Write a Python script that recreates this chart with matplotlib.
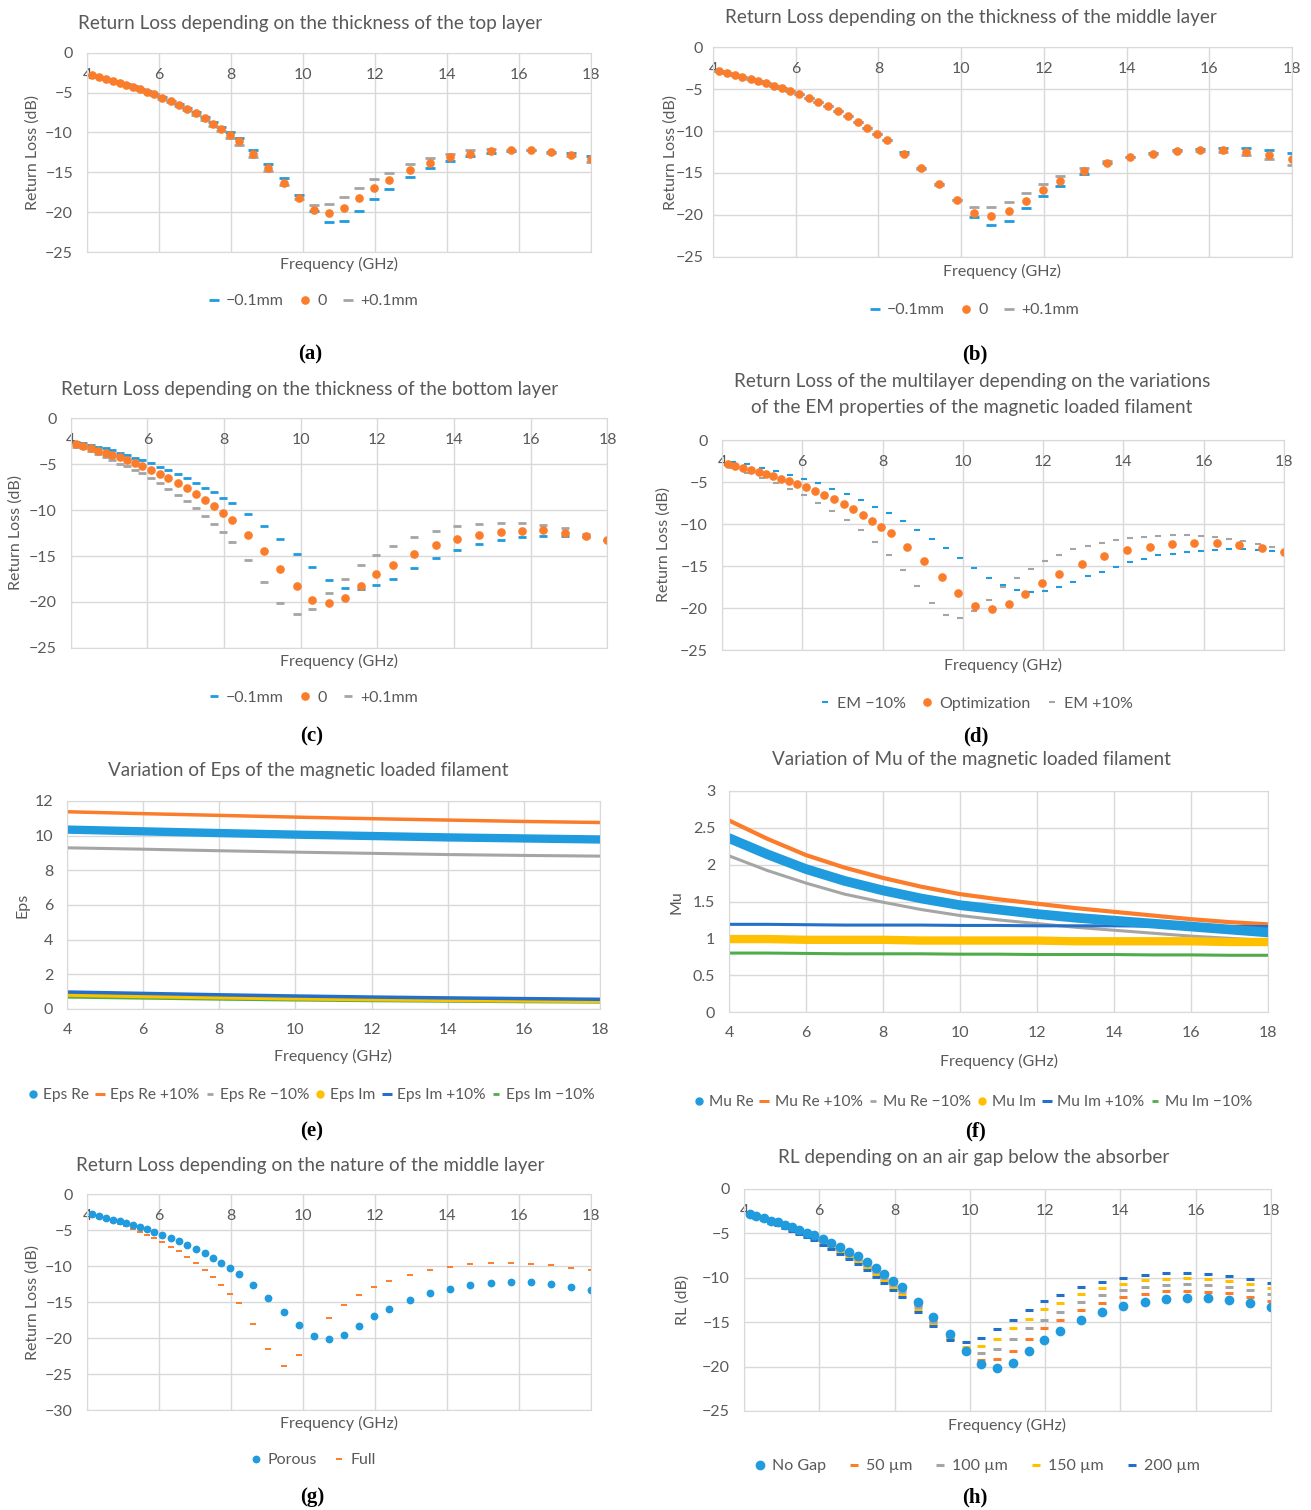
import matplotlib.pyplot as plt
from matplotlib.lines import Line2D

plt.rcParams['font.family'] = ['Lato', 'DejaVu Sans']

W, H = 1311, 1510
TXT = '#595959'
GRID = '#D9D9D9'
BLUE = '#1F9BDE'
ORANGE = '#FB7D2B'
GRAY = '#A5A5A5'
YELLOW = '#FFC000'
DBLUE = '#2470C8'
GREEN = '#4EAD4A'

# frequency samples (GHz) of the simulated return loss
freq = [4.15, 4.33, 4.52, 4.71, 4.91, 5.09, 5.28, 5.47, 5.67, 5.86,
        6.09, 6.32, 6.55, 6.79, 7.03, 7.27, 7.51, 7.73, 7.97, 8.21,
        8.62, 9.03, 9.47, 9.89, 10.30, 10.73, 11.15, 11.56, 11.97, 12.40,
        12.96, 13.52, 14.08, 14.65, 15.21, 15.77, 16.33, 16.88, 17.45, 18.0]

# optimised multilayer (reference curve, used in every RL panel)
rl_opt = [-2.8, -3.05, -3.3, -3.55, -3.77, -4.0, -4.27, -4.6, -4.9, -5.23,
          -5.65, -6.1, -6.57, -7.07, -7.6, -8.24, -8.9, -9.6, -10.33, -11.05,
          -12.68, -14.43, -16.36, -18.24, -19.75, -20.13, -19.54, -18.28, -16.99, -15.94,
          -14.77, -13.81, -13.14, -12.68, -12.38, -12.26, -12.22, -12.47, -12.85, -13.3]

# (a) top layer thickness
top_m = [-2.78, -3.03, -3.28, -3.52, -3.74, -3.97, -4.23, -4.55, -4.85, -5.17,
         -5.58, -6.02, -6.48, -6.97, -7.5, -8.1, -8.7, -9.35, -10.0, -10.7,
         -12.2, -13.9, -15.7, -17.9, -19.8, -21.2, -21.05, -19.9, -18.4, -17.1,
         -15.6, -14.5, -13.6, -12.97, -12.55, -12.3, -12.2, -12.4, -12.6, -12.93]
top_p = [-2.85, -3.1, -3.35, -3.6, -3.83, -4.05, -4.33, -4.67, -4.98, -5.32,
         -5.75, -6.22, -6.7, -7.22, -7.78, -8.45, -9.2, -9.85, -10.67, -11.55,
         -13.1, -14.85, -16.6, -18.4, -19.1, -19.0, -18.1, -17.0, -15.9, -15.06,
         -13.93, -13.2, -12.68, -12.26, -12.1, -12.15, -12.25, -12.55, -12.95, -13.7]

# (b) middle layer thickness
mid_m = [-2.8, -3.05, -3.3, -3.55, -3.77, -4.0, -4.27, -4.6, -4.9, -5.23,
         -5.65, -6.1, -6.57, -7.07, -7.6, -8.24, -8.9, -9.6, -10.33, -11.05,
         -12.45, -14.35, -16.3, -18.2, -20.2, -21.2, -20.7, -19.2, -17.7, -16.5,
         -15.1, -13.85, -13.05, -12.6, -12.3, -12.1, -12.0, -12.05, -12.25, -12.6]
mid_p = [-2.8, -3.05, -3.3, -3.55, -3.77, -4.0, -4.27, -4.6, -4.9, -5.23,
         -5.65, -6.1, -6.57, -7.07, -7.6, -8.24, -8.9, -9.6, -10.33, -11.05,
         -12.75, -14.5, -16.4, -18.25, -19.0, -19.1, -18.4, -17.4, -16.3, -15.4,
         -14.35, -13.6, -13.1, -12.7, -12.4, -12.35, -12.5, -12.85, -13.3, -14.0]

# (c) bottom layer thickness
bot_m = [-2.6, -2.74, -2.9, -3.1, -3.3, -3.5, -3.75, -4.0, -4.3, -4.58,
         -4.9, -5.3, -5.7, -6.1, -6.57, -7.04, -7.58, -8.09, -8.66, -9.28,
         -10.43, -11.77, -13.18, -14.73, -16.2, -17.58, -18.45, -18.63, -18.16, -17.47,
         -16.28, -15.23, -14.37, -13.72, -13.25, -12.96, -12.78, -12.8, -12.92, -13.25]
bot_p = [-3.1, -3.3, -3.57, -3.86, -4.22, -4.58, -4.95, -5.27, -5.67, -6.03,
         -6.5, -7.08, -7.69, -8.34, -9.03, -9.78, -10.61, -11.48, -12.42, -13.43,
         -15.45, -17.8, -20.1, -21.34, -20.72, -19.06, -17.47, -15.96, -14.84, -13.94,
         -12.92, -12.31, -11.77, -11.48, -11.37, -11.44, -11.59, -11.99, -12.56, -13.25]

# (d) EM properties +/-10% (own frequency grid)
freq_em = [4.28, 4.63, 4.99, 5.34, 5.69, 6.05, 6.40, 6.75, 7.11, 7.46,
           7.81, 8.17, 8.52, 8.87, 9.22, 9.58, 9.93, 10.28, 10.64, 10.99,
           11.34, 11.70, 12.05, 12.40, 12.75, 13.11, 13.46, 13.81, 14.17, 14.52,
           14.87, 15.23, 15.58, 15.93, 16.29, 16.64, 16.99, 17.34, 17.70, 18.0]
em_m = [-2.58, -2.9, -3.29, -3.69, -4.17, -4.68, -5.16, -5.83, -6.47, -7.14,
        -7.94, -8.73, -9.68, -10.67, -11.75, -12.9, -14.05, -15.2, -16.4, -17.3,
        -17.86, -18.06, -17.98, -17.46, -16.9, -16.19, -15.67, -15.08, -14.56, -14.13,
        -13.69, -13.57, -13.37, -13.17, -13.1, -13.0, -13.0, -13.13, -13.25, -13.37]
em_p = [-3.3, -3.93, -4.48, -5.08, -5.83, -6.59, -7.46, -8.45, -9.52, -10.75,
        -12.18, -13.73, -15.44, -17.42, -19.4, -20.87, -21.19, -20.4, -19.0, -17.54,
        -16.4, -15.3, -14.4, -13.65, -13.0, -12.58, -12.22, -11.87, -11.7, -11.55,
        -11.39, -11.35, -11.35, -11.43, -11.59, -11.75, -12.0, -12.42, -12.78, -13.17]

# (e) permittivity of the magnetic loaded filament
f_eps = [4, 6, 8, 10, 12, 14, 16, 18]
eps_re = [10.35, 10.25, 10.15, 10.06, 9.98, 9.9, 9.84, 9.78]
eps_re_p = [11.38, 11.27, 11.17, 11.07, 10.98, 10.9, 10.82, 10.76]
eps_re_m = [9.3, 9.22, 9.13, 9.05, 8.98, 8.91, 8.86, 8.82]
eps_im = [0.84, 0.76, 0.69, 0.63, 0.58, 0.54, 0.51, 0.48]
eps_im_p = [0.98, 0.9, 0.82, 0.75, 0.69, 0.64, 0.6, 0.56]
eps_im_m = [0.7, 0.64, 0.58, 0.53, 0.49, 0.46, 0.43, 0.41]

# (f) permeability of the magnetic loaded filament
f_mu = [4, 5, 6, 7, 8, 9, 10, 11, 12, 13, 14, 15, 16, 17, 18]
mu_re = [2.36, 2.14, 1.94, 1.78, 1.65, 1.54, 1.45, 1.39, 1.33, 1.28, 1.24, 1.2, 1.16, 1.12, 1.08]
mu_re_p = [2.6, 2.35, 2.13, 1.96, 1.82, 1.70, 1.6, 1.53, 1.47, 1.41, 1.36, 1.31, 1.26, 1.22, 1.19]
mu_re_m = [2.12, 1.92, 1.75, 1.60, 1.49, 1.39, 1.31, 1.25, 1.2, 1.15, 1.11, 1.07, 1.03, 1.0, 0.97]
mu_im = [0.99, 0.99, 0.98, 0.98, 0.98, 0.97, 0.97, 0.97, 0.97, 0.96, 0.96, 0.96, 0.96, 0.95, 0.95]
mu_im_p = [1.19, 1.19, 1.185, 1.18, 1.18, 1.18, 1.175, 1.175, 1.17, 1.17, 1.17, 1.165, 1.165, 1.16, 1.16]
mu_im_m = [0.8, 0.8, 0.795, 0.79, 0.79, 0.79, 0.785, 0.785, 0.78, 0.78, 0.78, 0.775, 0.775, 0.77, 0.77]

# (g) full middle layer instead of porous
rl_full = [-3.1, -3.34, -3.57, -3.85, -4.17, -4.5, -4.87, -5.29, -5.66, -6.12,
           -6.68, -7.33, -7.97, -8.76, -9.64, -10.52, -11.59, -12.61, -13.82, -15.11,
           -17.99, -21.46, -23.83, -22.39, -19.61, -17.2, -15.39, -14.0, -12.89, -12.05,
           -11.22, -10.52, -10.11, -9.78, -9.6, -9.55, -9.69, -9.92, -10.25, -10.57]

# (h) air gap below the absorber
gap50 = [-2.85, -3.11, -3.38, -3.65, -3.89, -4.14, -4.43, -4.78, -5.1, -5.43,
         -5.87, -6.34, -6.83, -7.35, -7.9, -8.56, -9.24, -9.95, -10.66, -11.35,
         -13.03, -14.83, -16.66, -18.3, -19.3, -19.1, -18.2, -16.9, -15.7, -14.8,
         -13.67, -12.88, -12.2, -11.78, -11.52, -11.45, -11.56, -11.75, -12.12, -12.61]
gap100 = [-2.88, -3.15, -3.43, -3.71, -3.96, -4.22, -4.52, -4.88, -5.2, -5.55,
          -6.0, -6.48, -6.98, -7.51, -8.07, -8.74, -9.44, -10.18, -10.9, -11.6,
          -13.28, -15.08, -16.81, -18.15, -18.5, -18.0, -16.9, -15.7, -14.7, -13.8,
          -12.7, -11.97, -11.37, -11.0, -10.77, -10.73, -10.84, -11.07, -11.4, -11.82]
gap150 = [-2.9, -3.18, -3.47, -3.76, -4.02, -4.29, -4.6, -4.97, -5.3, -5.66,
          -6.12, -6.61, -7.13, -7.68, -8.26, -8.95, -9.66, -10.4, -11.15, -11.9,
          -13.58, -15.28, -16.91, -17.8, -17.7, -16.9, -15.7, -14.6, -13.55, -12.8,
          -11.86, -11.18, -10.65, -10.28, -10.1, -10.05, -10.13, -10.39, -10.73, -11.18]
gap200 = [-2.93, -3.22, -3.51, -3.81, -4.08, -4.36, -4.68, -5.06, -5.4, -5.78,
          -6.25, -6.76, -7.29, -7.85, -8.45, -9.16, -9.88, -10.62, -11.4, -12.17,
          -13.88, -15.48, -17.01, -17.2, -16.8, -15.8, -14.7, -13.6, -12.65, -11.9,
          -11.03, -10.43, -10.0, -9.68, -9.45, -9.45, -9.53, -9.79, -10.13, -10.62]

MINUS = '\u2212'

fig = plt.figure(figsize=(W / 100, H / 100), dpi=100)


def axes_px(x0, y0, x1, y1):
    return fig.add_axes([x0 / W, 1 - y1 / H, (x1 - x0) / W, (y1 - y0) / H])


def text_px(x, y, s, **kw):
    kw.setdefault('color', TXT)
    kw.setdefault('fontsize', 11.5)
    fig.text(x / W, 1 - y / H, s, ha='center', va='center', **kw)


def style(ax, ylim, yticks, top_labels=True, ypad=10):
    ax.set_xlim(4, 18)
    ax.set_ylim(*ylim)
    ax.set_xticks(range(4, 19, 2))
    ax.set_yticks(yticks)
    ax.grid(True, color=GRID, lw=1)
    ax.set_axisbelow(True)
    for s in ax.spines.values():
        s.set_color(GRID)
    if top_labels:
        ax.tick_params(axis='x', length=0, labelbottom=False, labeltop=True,
                       pad=-21, labelsize=11.5, labelcolor=TXT)
    else:
        ax.tick_params(axis='x', length=0, pad=10, labelsize=11.5, labelcolor=TXT)
    ax.tick_params(axis='y', length=0, pad=ypad, labelsize=11.5, labelcolor=TXT)


def legend_px(ax, handles, labels, x, y, colsp=1.0, fs=11.5, tpad=0.4):
    ax.legend(handles, labels, loc='center', bbox_to_anchor=(x / W, 1 - y / H),
              bbox_transform=fig.transFigure, ncol=len(handles), frameon=False,
              fontsize=fs, labelcolor=TXT, handlelength=0.7, handletextpad=tpad,
              columnspacing=colsp, numpoints=1)


def dots(ax, x, y, c, ms=5.2):
    return ax.plot(x, y, ls='none', marker='o', ms=ms, color=c, mec=c)[0]


def dashes(ax, x, y, c, ms=6.5, mew=2.0):
    return ax.plot(x, y, ls='none', marker='_', ms=ms, mew=mew, color=c)[0]


rl_ticks = [0, -5, -10, -15, -20, -25]
thick_labels = [MINUS + '0.1mm', '0', '+0.1mm']
TFS = 13.6

# (a)
ax = axes_px(87, 52.7, 591, 252)
style(ax, (-25, 0), rl_ticks)
h1 = dashes(ax, freq, top_m, BLUE)
h3 = dashes(ax, freq, top_p, GRAY)
h2 = dots(ax, freq, rl_opt, ORANGE)
legend_px(ax, [h1, h2, h3], thick_labels, 313, 301)
text_px(310, 23, 'Return Loss depending on the thickness of the top layer', fontsize=TFS)
text_px(339, 264, 'Frequency (GHz)')
text_px(33, 152, 'Return Loss (dB)', rotation=90)

# (b)
ax = axes_px(713, 47, 1292, 257)
style(ax, (-25, 0), rl_ticks, ypad=7)
h1 = dashes(ax, freq, mid_m, BLUE)
h3 = dashes(ax, freq, mid_p, GRAY)
h2 = dots(ax, freq, rl_opt, ORANGE)
legend_px(ax, [h1, h2, h3], thick_labels, 974, 310)
text_px(971, 17, 'Return Loss depending on the thickness of the middle layer', fontsize=TFS)
text_px(1002, 271, 'Frequency (GHz)')
text_px(671, 152, 'Return Loss (dB)', rotation=90)

# (c)
ax = axes_px(70.7, 418, 607.5, 648)
style(ax, (-25, 0), rl_ticks)
h1 = dashes(ax, freq, bot_m, BLUE, ms=5.5)
h3 = dashes(ax, freq, bot_p, GRAY, ms=5.5)
h2 = dots(ax, freq, rl_opt, ORANGE)
legend_px(ax, [h1, h2, h3], thick_labels, 313, 698)
text_px(310, 389, 'Return Loss depending on the thickness of the bottom layer', fontsize=TFS)
text_px(339, 661, 'Frequency (GHz)')
text_px(16, 533, 'Return Loss (dB)', rotation=90)

# (d)
ax = axes_px(722, 440, 1284, 650)
style(ax, (-25, 0), rl_ticks)
h1 = dashes(ax, freq_em, em_m, BLUE, ms=5.0, mew=1.5)
h3 = dashes(ax, freq_em, em_p, GRAY, ms=5.0, mew=1.5)
h2 = dots(ax, freq, rl_opt, ORANGE)
legend_px(ax, [h1, h2, h3], ['EM ' + MINUS + '10%', 'Optimization', 'EM +10%'], 976, 704)
text_px(972, 394.5, 'Return Loss of the multilayer depending on the variations\n'
        'of the EM properties of the magnetic loaded filament', fontsize=TFS, linespacing=1.6)
text_px(1003, 665, 'Frequency (GHz)')
text_px(664, 545, 'Return Loss (dB)', rotation=90)

# (e)
ax = axes_px(67, 801, 600, 1009)
style(ax, (0, 12), range(0, 13, 2), top_labels=False)
ax.plot(f_eps, eps_re_p, color=ORANGE, lw=2.5)
ax.plot(f_eps, eps_re_m, color=GRAY, lw=2.2)
ax.plot(f_eps, eps_re, color=BLUE, lw=6, solid_capstyle='round')
ax.plot(f_eps, eps_im_m, color=GREEN, lw=2.5)
ax.plot(f_eps, eps_im, color=YELLOW, lw=3.5, solid_capstyle='round')
ax.plot(f_eps, eps_im_p, color=DBLUE, lw=2.5)
eh = [Line2D([], [], ls='none', marker='o', ms=5, color=BLUE),
      Line2D([], [], ls='none', marker='_', ms=7, mew=2.2, color=ORANGE),
      Line2D([], [], ls='none', marker='_', ms=4, mew=2, color=GRAY),
      Line2D([], [], ls='none', marker='o', ms=5, color=YELLOW),
      Line2D([], [], ls='none', marker='_', ms=7, mew=2.2, color=DBLUE),
      Line2D([], [], ls='none', marker='_', ms=4, mew=2, color=GREEN)]
legend_px(ax, eh, ['Eps Re', 'Eps Re +10%', 'Eps Re ' + MINUS + '10%', 'Eps Im',
                   'Eps Im +10%', 'Eps Im ' + MINUS + '10%'], 311, 1095,
          colsp=0.35, fs=11.2, tpad=0.3)
text_px(308, 770, 'Variation of Eps of the magnetic loaded filament', fontsize=TFS)
text_px(333, 1056, 'Frequency (GHz)')
text_px(22, 905, 'Eps', rotation=90)

# (f)
ax = axes_px(729, 791, 1268, 1012)
style(ax, (0, 3), [0, 0.5, 1, 1.5, 2, 2.5, 3], top_labels=False)
ax.set_yticklabels(['0', '0.5', '1', '1.5', '2', '2.5', '3'])
ax.plot(f_mu, mu_re_p, color=ORANGE, lw=3)
ax.plot(f_mu, mu_re_m, color=GRAY, lw=2.2)
ax.plot(f_mu, mu_im_p, color=DBLUE, lw=2.2)
ax.plot(f_mu, mu_re, color=BLUE, lw=7, solid_capstyle='round')
ax.plot(f_mu, mu_im, color=YELLOW, lw=6, solid_capstyle='round')
ax.plot(f_mu, mu_im_m, color=GREEN, lw=2.2)
legend_px(ax, eh, ['Mu Re', 'Mu Re +10%', 'Mu Re ' + MINUS + '10%', 'Mu Im',
                   'Mu Im +10%', 'Mu Im ' + MINUS + '10%'], 973, 1102,
          colsp=0.35, fs=11.2, tpad=0.3)
text_px(971, 760, 'Variation of Mu of the magnetic loaded filament', fontsize=TFS)
text_px(999, 1061, 'Frequency (GHz)')
text_px(677, 902, 'Mu', rotation=90)

# (g)
ax = axes_px(87, 1194, 591, 1410)
style(ax, (-30, 0), [0, -5, -10, -15, -20, -25, -30])
h2 = dashes(ax, freq, rl_full, ORANGE, ms=5.0, mew=1.4)
h1 = dots(ax, freq, rl_opt, BLUE, ms=4.6)
legend_px(ax, [h1, h2], ['Porous', 'Full'], 313, 1460)
text_px(310, 1166, 'Return Loss depending on the nature of the middle layer', fontsize=TFS)
text_px(339, 1423, 'Frequency (GHz)')
text_px(33, 1302, 'Return Loss (dB)', rotation=90)

# (h)
ax = axes_px(744, 1189, 1271, 1411)
style(ax, (-25, 0), rl_ticks)
g1 = dashes(ax, freq, gap50, ORANGE, ms=6, mew=2.2)
g2 = dashes(ax, freq, gap100, GRAY, ms=6, mew=2.2)
g3 = dashes(ax, freq, gap150, YELLOW, ms=6, mew=2.2)
g4 = dashes(ax, freq, gap200, DBLUE, ms=6, mew=2.2)
g0 = dots(ax, freq, rl_opt, BLUE, ms=6)
legend_px(ax, [g0, g1, g2, g3, g4], ['No Gap', '50 \u00b5m', '100 \u00b5m', '150 \u00b5m', '200 \u00b5m'],
          977, 1466, colsp=1.4)
text_px(974, 1158, 'RL depending on an air gap below the absorber', fontsize=TFS)
text_px(1007, 1425, 'Frequency (GHz)')
text_px(683, 1300, 'RL (dB)', rotation=90)

# panel letters
for lab, x, y in [('a', 310, 354), ('b', 975, 354), ('c', 312, 736), ('d', 976, 736),
                  ('e', 312, 1131), ('f', 975, 1131), ('g', 312, 1497), ('h', 975, 1497)]:
    text_px(x, y, '(' + lab + ')', color='black', fontsize=15, fontweight='bold',
            family=['Liberation Serif', 'DejaVu Serif'])

fig.savefig('out.png', dpi=100)
